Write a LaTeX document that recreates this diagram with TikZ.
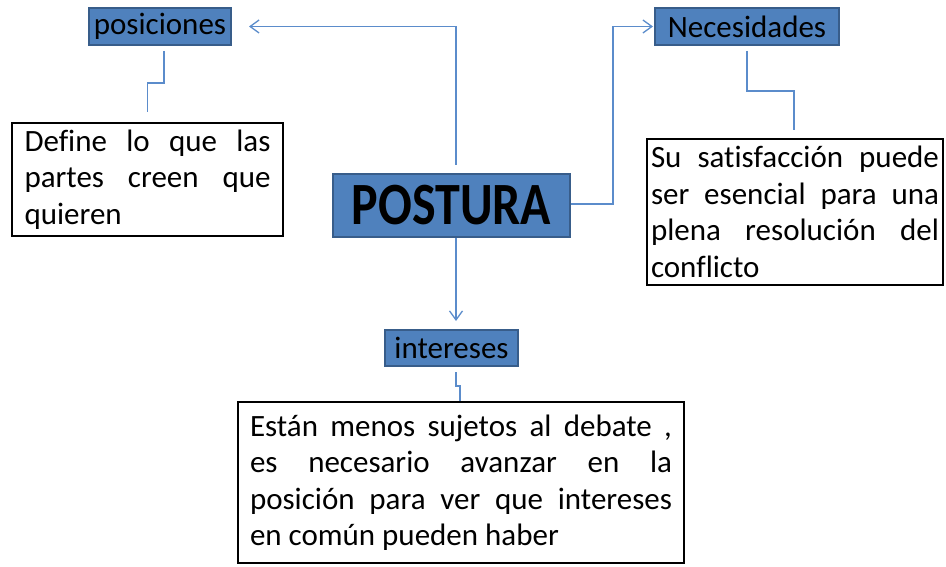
\documentclass[tikz,border=0pt]{standalone}
\usepackage{fontspec}
\setmainfont[Ligatures=CommonOff]{Carlito}
\usetikzlibrary{arrows.meta}
\definecolor{boxblue}{HTML}{4F81BD}
\definecolor{boxedge}{HTML}{385D8A}
\definecolor{linkblue}{HTML}{5B8CCB}
\tikzset{
  label/.style={draw=boxedge, line width=2pt, fill=boxblue, text=black, inner sep=0pt,
    font=\fontsize{31}{37}\selectfont},
  textbox/.style={draw=black, line width=2.4pt, fill=white, text=black, align=justify,
    inner ysep=0pt, font=\fontsize{31}{36.5}\selectfont},
  conn/.style={draw=linkblue, line width=1.3pt},
  tip/.style={-{Straight Barb[length=9pt,width=13pt,line width=1.3pt]}}
}
\begin{document}
\begin{tikzpicture}[x=1pt,y=-1pt]
\useasboundingbox (0,0) rectangle (946,567);
\node[label, minimum width=142pt, minimum height=37pt] (pos) at (160,26.5) {posiciones};
\node[label, minimum width=184pt, minimum height=37pt] (nec) at (747,26.5) {Necesidades};
\node[label, minimum width=237pt, minimum height=63pt, font=\fontsize{50}{56}\selectfont\bfseries] (post) at (451.5,205.5) {\scalebox{1}[1.2]{POSTURA}};
\node[label, minimum width=133pt, minimum height=36pt] (inter) at (451.5,348) {intereses};
\node[textbox, minimum width=271pt, minimum height=113pt, text width=246pt, inner xsep=12.5pt] (def) at (147.5,179.5)
  {Define lo que las\linebreak partes creen que\linebreak quieren};
\node[textbox, minimum width=296pt, minimum height=146pt, text width=288pt, inner xsep=4pt] (su) at (795,212)
  {Su satisfacción puede\linebreak ser esencial para una\linebreak plena resolución del\linebreak conflicto};
\node[textbox, minimum width=446pt, minimum height=161pt, text width=422pt, inner xsep=12pt] (est) at (461,482.5)
  {Están menos sujetos al debate ,\linebreak es necesario avanzar en la\linebreak posición para ver que intereses\linebreak en común pueden haber};
% connectors
\draw[conn,tip] ([xshift=4.5pt,yshift=8pt]post.north) |- ([xshift=17pt]pos.east);
\draw[conn,tip] ([yshift=1.5pt]post.east) -- ++(42pt,0) |- ([xshift=-1pt]nec.west);
\draw[conn,tip] ([xshift=4.5pt]post.south) -- ([xshift=4.5pt,yshift=8pt]inter.north);
\draw[conn] ([xshift=4pt,yshift=-5pt]pos.south) -- ++(0,-32pt) -| ([yshift=10pt]def.north);
\draw[conn] ([yshift=-5pt]nec.south) -- ++(0,-40pt) -| ([xshift=-1pt,yshift=8pt]su.north);
\draw[conn] ([xshift=4.5pt,yshift=-5pt]inter.south) -- ++(0,-14pt) -| ([xshift=-1pt]est.north);
\end{tikzpicture}
\end{document}
